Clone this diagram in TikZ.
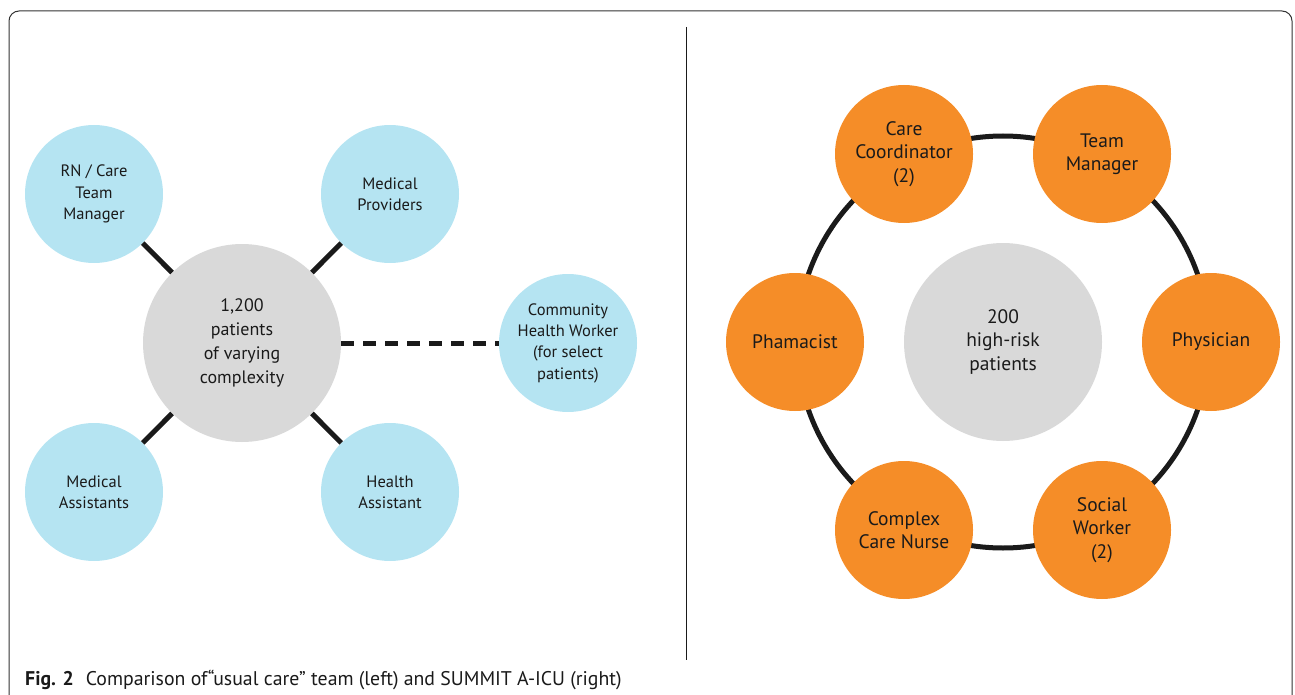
\documentclass[tikz,border=0pt]{standalone}
\usepackage{fontspec}
\setmainfont{PT Sans}
\usetikzlibrary{shapes.geometric}
\definecolor{bluec}{HTML}{B5E4F2}
\definecolor{grayc}{HTML}{D9D9D9}
\definecolor{orangec}{HTML}{F58D28}
\definecolor{ink}{HTML}{1A1A1A}
\definecolor{framec}{HTML}{333333}
\begin{document}
\begin{tikzpicture}[x=1pt,y=-1pt,
  bluenode/.style={circle,fill=bluec,minimum size=138pt,inner sep=0pt,align=center,text=ink,
    font=\fontsize{16.5}{21.3}\selectfont},
  graybig/.style={circle,fill=grayc,minimum size=198pt,inner sep=0pt,align=center,text=ink,
    font=\fontsize{18}{24}\selectfont},
  orangenode/.style={circle,fill=orangec,minimum size=138pt,inner sep=0pt,
    align=center,text=ink,font=\fontsize{19.5}{23.5}\selectfont},
  grayright/.style={circle,fill=grayc,minimum size=198pt,inner sep=0pt,
    align=center,text=ink,font=\fontsize{19.5}{23.5}\selectfont},
  link/.style={draw=ink,line width=5pt},
  dashlink/.style={draw=ink,line width=5pt,dash pattern=on 13pt off 9pt},
  ringstyle/.style={circle,draw=ink,line width=5pt,minimum size=412pt,inner sep=0pt},
  framestyle/.style={draw=framec,line width=1pt,rounded corners=10pt},
  divider/.style={draw=ink,line width=1pt},
  captionstyle/.style={anchor=west,inner sep=0pt,text=ink,font=\fontsize{19.8}{22}\selectfont}
]
\useasboundingbox (0,0) rectangle (1295,695);
% frame and divider
\coordinate (fbl) at (9,700);
\coordinate (ftl) at (9,11);
\coordinate (ftr) at (1292,11);
\coordinate (fbr) at (1292,700);
\draw[framestyle] (fbl) -- (ftl) -- (ftr) -- (fbr);
\coordinate (dtop) at (686,27);
\coordinate (dbot) at (686,660);
\draw[divider] (dtop) -- (dbot);

% left: usual care
\node[graybig] (pat) at (242,343) {1,200\\patients\\of varying\\complexity};
\node[bluenode] (rn) at (94,194) {RN / Care\\Team\\Manager};
\node[bluenode] (mp) at (390,194) {Medical\\Providers};
\node[bluenode] (ma) at (94,492) {Medical\\Assistants};
\node[bluenode] (ha) at (390,492) {Health\\Assistant};
\node[bluenode] (chw) at (568,343) {Community\\Health Worker\\(for select\\patients)};
\draw[link] (rn) -- (pat);
\draw[link] (mp) -- (pat);
\draw[link] (ma) -- (pat);
\draw[link] (ha) -- (pat);
\draw[dashlink] (pat) -- (chw);

% right: SUMMIT A-ICU
\node[ringstyle] (ring) at (1003,342) {};
\node[grayright] (hr) at (1003,342) {200\\high-risk\\patients};
\node[orangenode] (cc) at (904,154) {Care\\Coordinator\\(2)};
\node[orangenode] (tm) at (1102,154) {Team\\Manager};
\node[orangenode] (ph) at (795,342) {Phamacist};
\node[orangenode] (py) at (1211,342) {Physician};
\node[orangenode] (ccn) at (904,530) {Complex\\Care Nurse};
\node[orangenode] (sw) at (1102,530) {Social\\Worker\\(2)};

% caption
\node[captionstyle] (cap) at (25,680) {\textbf{Fig. 2}\hspace{0.6em}Comparison of“usual care” team (left) and SUMMIT A-ICU (right)};
\end{tikzpicture}
\end{document}
